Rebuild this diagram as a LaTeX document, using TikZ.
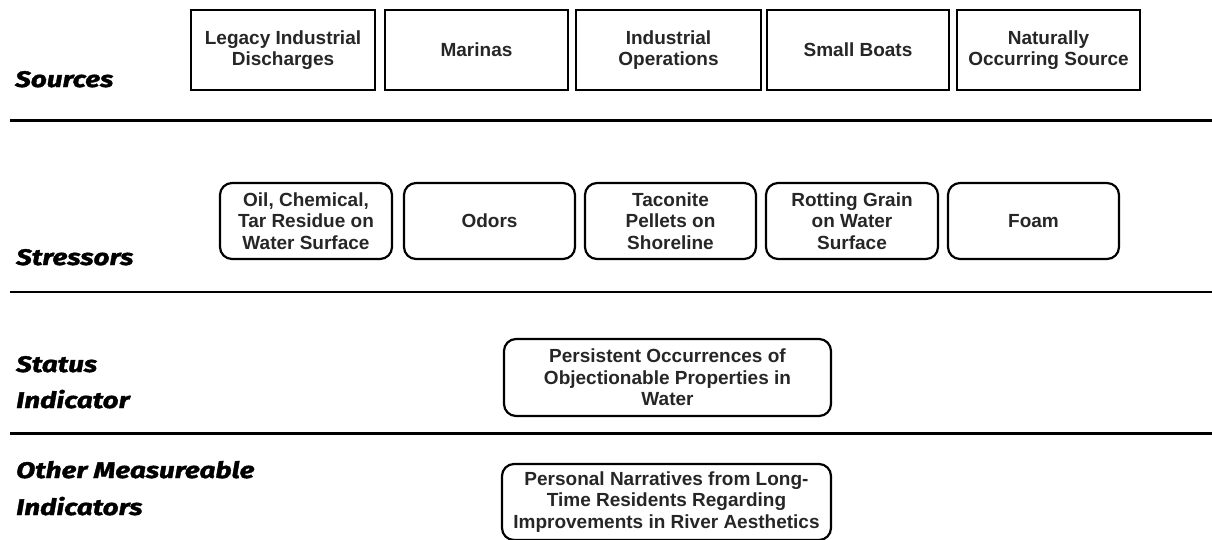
\documentclass[tikz,border=0pt]{standalone}
\usepackage{fontspec}
\setmainfont{Liberation Sans}
\newfontfamily\lblfont{Fira Sans}[BoldItalicFeatures={FakeBold=1.6, FakeStretch=1.24}]
\begin{document}
\begin{tikzpicture}[x=1pt,y=-1pt,
  boxtext/.style={font=\bfseries\fontsize{19}{21.5}\selectfont, align=center, inner sep=0pt, text=black!85},
  srcbox/.style={boxtext, draw=black, line width=2.2pt, minimum height=80pt},
  strbox/.style={boxtext, draw=black, line width=2.2pt, rounded corners=12pt, minimum height=76pt},
  lbl/.style={font=\lblfont\bfseries\itshape\fontsize{22.5}{26}\selectfont, anchor=base west, inner sep=0pt},
  rule/.style={line width=2.2pt}]
\useasboundingbox (0,0) rectangle (1212,539);

% Sources row
\node[srcbox, minimum width=184pt] (legacy) at (283,50) {Legacy Industrial\\Discharges};
\node[srcbox, minimum width=183pt] (marinas) at (476.5,50) {Marinas};
\node[srcbox, minimum width=185pt] (indops) at (668.5,50) {Industrial\\Operations};
\node[srcbox, minimum width=182pt] (boats) at (858,50) {Small Boats};
\node[srcbox, minimum width=183pt] (natural) at (1048.5,50) {Naturally\\Occurring Source};

% Stressors row
\node[strbox, minimum width=172pt] (oil) at (306,221) {Oil, Chemical,\\Tar Residue on\\Water Surface};
\node[strbox, minimum width=171pt] (odors) at (489.5,221) {Odors};
\node[strbox, minimum width=171pt] (taconite) at (670.5,221) {Taconite\\Pellets on\\Shoreline};
\node[strbox, minimum width=172pt] (grain) at (852,221) {Rotting Grain\\on Water\\Surface};
\node[strbox, minimum width=171pt] (foam) at (1033.5,221) {Foam};

% Indicator boxes
\node[strbox, minimum width=327pt, minimum height=77pt] (status) at (667.5,377.5)
  {Persistent Occurrences of\\Objectionable Properties in\\Water};
\node[strbox, minimum width=329pt] (narratives) at (666.5,502)
  {Personal Narratives from Long-\\Time Residents Regarding\\Improvements in River Aesthetics};

% Row labels
\node[lbl] (lsources) at (15,87) {Sources};
\node[lbl] (lstressors) at (16,265) {Stressors};
\node[lbl] (lstatusA) at (16,372) {Status};
\node[lbl] (lstatusB) at (16,408) {Indicator};
\node[lbl] (lotherA) at (16,478) {Other Measureable};
\node[lbl] (lotherB) at (16,515) {Indicators};

% Row separators
\coordinate (r1a) at (10,120.5); \coordinate (r1b) at (1212,120.5);
\coordinate (r2a) at (10,292); \coordinate (r2b) at (1212,292);
\coordinate (r3a) at (10,433.5); \coordinate (r3b) at (1212,433.5);
\draw[rule] (r1a) -- (r1b);
\draw[rule] (r2a) -- (r2b);
\draw[rule] (r3a) -- (r3b);
\end{tikzpicture}
\end{document}
